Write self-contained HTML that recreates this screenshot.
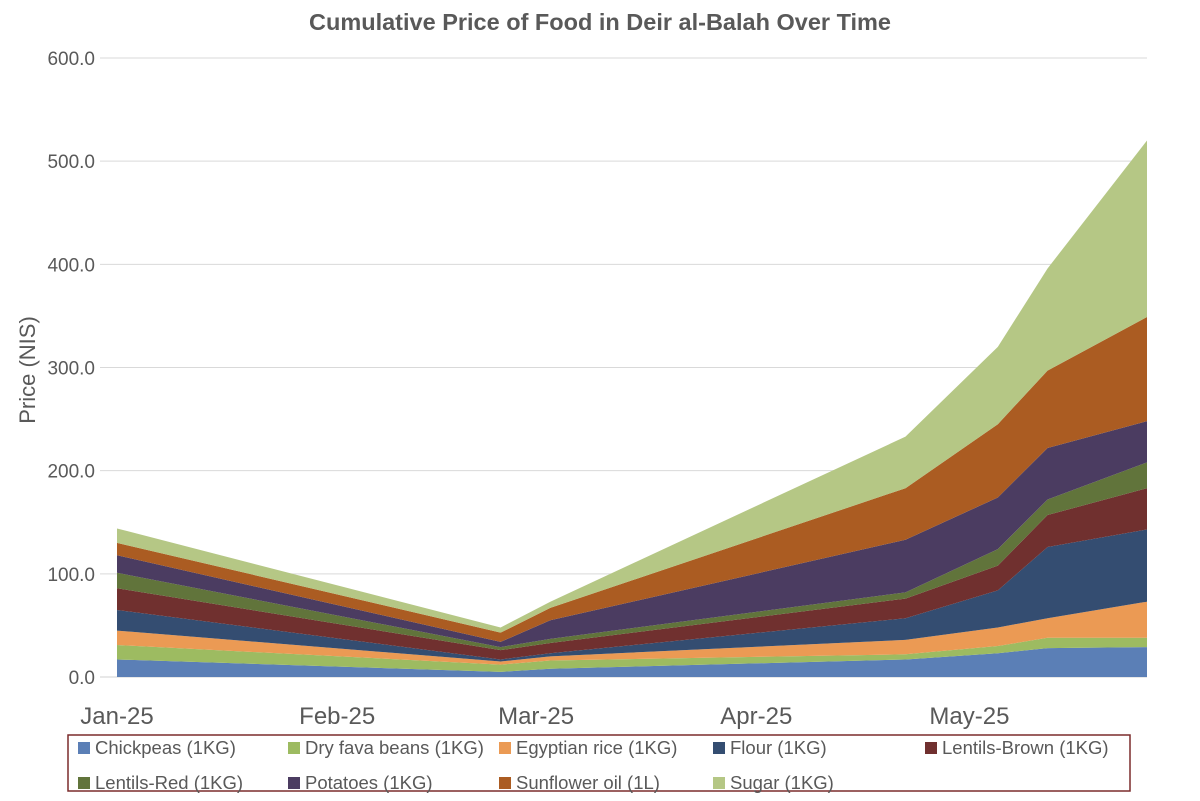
<!DOCTYPE html>
<html><head><meta charset="utf-8">
<style>
html,body{margin:0;padding:0;background:#fff;}
svg{display:block;font-family:"Liberation Sans",sans-serif;}
</style></head>
<body>
<svg id="chart" width="1200" height="801" viewBox="0 0 1200 801">
<text x="600" y="30" text-anchor="middle" font-size="23.5" font-weight="bold" fill="#595959">Cumulative Price of Food in Deir al-Balah Over Time</text>
<text transform="translate(35,370) rotate(-90)" text-anchor="middle" font-size="22" fill="#595959">Price (NIS)</text>
<g id="grid"></g>
<g id="areas"></g>
<g id="yticks"></g>
<g id="xticks"></g>
<rect x="68" y="735" width="1062" height="56" fill="none" stroke="#7b2c2c" stroke-width="1.5"/>
<g id="legend"></g>
</svg>
<script>
const seriesNames = ["Chickpeas (1KG)","Dry fava beans (1KG)","Egyptian rice (1KG)","Flour (1KG)","Lentils-Brown (1KG)","Lentils-Red (1KG)","Potatoes (1KG)","Sunflower oil (1L)","Sugar (1KG)"];
const seriesColors = ["#5b7fb6","#9dbb61","#eb9a54","#344d71","#70302f","#61743b","#4b3c61","#ab5c22","#b5c785"];
const dayOffsets = [0, 54, 61, 111, 124, 131, 145];
const chickpeas = [17, 5, 8, 17, 23, 28, 29];
const favaBeans = [14, 7, 8, 5, 7, 10, 9];
const rice = [14, 3, 4, 14, 18, 19, 35];
const flour = [20, 2, 3, 21, 36, 69, 70];
const lentilsBrown = [21, 9, 10, 19, 24, 31, 40];
const lentilsRed = [15, 3, 4, 6, 16, 15, 25];
const potatoes = [17, 5, 18, 51, 50, 50, 40];
const sunflowerOil = [12, 9, 12, 50, 71, 75, 101];
const sugar = [14, 5, 6, 50, 75, 99, 171];
const yTicks = [0, 100, 200, 300, 400, 500, 600];
const monthLabels = ["Jan-25","Feb-25","Mar-25","Apr-25","May-25"];
const monthDays = [0, 31, 59, 90, 120];

const series = [chickpeas,favaBeans,rice,flour,lentilsBrown,lentilsRed,potatoes,sunflowerOil,sugar];
const NS = "http://www.w3.org/2000/svg";
const X0 = 117, X1 = 1147, Y0 = 677, Y1 = 58;
const maxDay = dayOffsets[dayOffsets.length-1];
const xs = d => X0 + (X1 - X0) * d / maxDay;
const ys = v => Y0 - (Y0 - Y1) * v / 600;
function mk(tag, attrs, parent){const e=document.createElementNS(NS,tag);for(const k in attrs)e.setAttribute(k,attrs[k]);parent.appendChild(e);return e;}

const grid = document.getElementById('grid'), yt = document.getElementById('yticks');
yTicks.forEach(v=>{
  const l = mk('line',{x1:100,x2:X1,y1:ys(v),y2:ys(v),stroke:v===0?'#d0d0d0':'#d9d9d9','stroke-width':1},grid);
  
  
  const t = mk('text',{x:95,y:ys(v)+7,'text-anchor':'end','font-size':19,fill:'#595959'},yt);
  t.textContent = v.toFixed(1);
  
  
});
const xt = document.getElementById('xticks');
monthLabels.forEach((m,i)=>{
  const t = mk('text',{x:xs(monthDays[i]),y:724,'text-anchor':'middle','font-size':24,fill:'#595959'},xt);
  t.textContent = m;
  
  
});
const areas = document.getElementById('areas');
let base = dayOffsets.map(()=>0);
series.forEach((s,si)=>{
  const top = base.map((b,i)=>b+s[i]);
  let d = '';
  dayOffsets.forEach((dd,i)=>{d += (i?'L':'M')+xs(dd)+','+ys(top[i]);});
  for(let i=dayOffsets.length-1;i>=0;i--) d += 'L'+xs(dayOffsets[i])+','+ys(base[i]);
  d += 'Z';
  const p = mk('path',{d:d,fill:seriesColors[si]},areas);
  
  
  base = top;
});
const lg = document.getElementById('legend');
const legX = [78,288,499,713,925];
seriesNames.forEach((n,i)=>{
  const row = Math.floor(i/5), col = i%5;
  const y = row===0?748:783;
  const g = mk('g',{},lg);
  
  
  mk('rect',{x:legX[col],y:y-6,width:12,height:12,fill:seriesColors[i]},g);
  const t = mk('text',{x:legX[col]+17,y:y+6,'font-size':18.5,fill:'#595959'},g);
  t.textContent = n;
});
</script>
</body></html>
